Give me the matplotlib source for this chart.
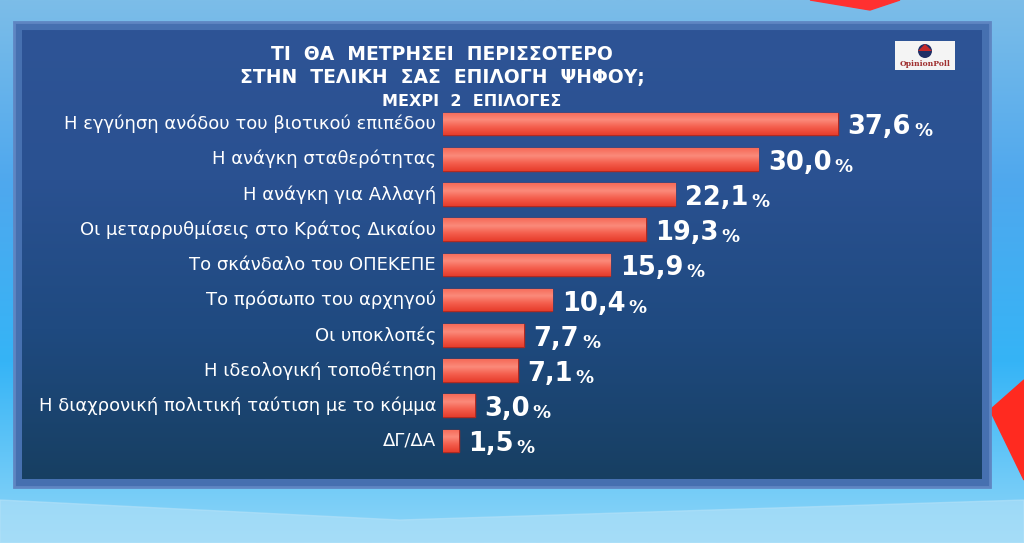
import numpy as np
import matplotlib
matplotlib.use("Agg")
import matplotlib.pyplot as plt
from matplotlib.patches import Rectangle, Polygon, Circle
from matplotlib.colors import LinearSegmentedColormap

categories = [
    "Η εγγύηση ανόδου του βιοτικού επιπέδου",
    "Η ανάγκη σταθερότητας",
    "Η ανάγκη για Αλλαγή",
    "Οι μεταρρυθμίσεις στο Κράτος Δικαίου",
    "Το σκάνδαλο του ΟΠΕΚΕΠΕ",
    "Το πρόσωπο του αρχηγού",
    "Οι υποκλοπές",
    "Η ιδεολογική τοποθέτηση",
    "Η διαχρονική πολιτική ταύτιση με το κόμμα",
    "ΔΓ/ΔΑ",
]
values = [37.6, 30.0, 22.1, 19.3, 15.9, 10.4, 7.7, 7.1, 3.0, 1.5]
title_lines = ["ΤΙ  ΘΑ  ΜΕΤΡΗΣΕΙ  ΠΕΡΙΣΣΟΤΕΡΟ", "ΣΤΗΝ  ΤΕΛΙΚΗ  ΣΑΣ  ΕΠΙΛΟΓΗ  ΨΗΦΟΥ;"]
subtitle = "ΜΕΧΡΙ  2  ΕΠΙΛΟΓΕΣ"

W, H = 1024, 543
fig = plt.figure(figsize=(W / 100, H / 100), dpi=100)

# ---- background (pixel coordinates, y downwards) ----
bg = fig.add_axes([0, 0, 1, 1])
bg.axis("off")
bg_cmap = LinearSegmentedColormap.from_list("bg", ["#7cbde8", "#4fa8ee", "#35b4f6", "#8fd6f8"])
grad = np.linspace(0, 1, 256).reshape(-1, 1)
bg.imshow(grad, extent=[0, W, H, 0], cmap=bg_cmap, aspect="auto", zorder=0)
bg.add_patch(Polygon([[990, 410], [1024, 380], [1024, 480]], closed=True, color="#ff2a20", zorder=1))
bg.add_patch(Polygon([[810, 0], [900, 0], [870, 10]], closed=True, color="#ff3030", zorder=1))
bg.add_patch(Polygon([[0, 500], [400, 520], [1024, 500], [1024, 543], [0, 543]], closed=True,
                     color="#b5e2f8", alpha=0.6, zorder=1))

# panel
bg.add_patch(Rectangle((14, 22), 976, 465, facecolor="#4670b0", edgecolor="#5f86c2", lw=2, zorder=2))
panel_cmap = LinearSegmentedColormap.from_list("panel", ["#2e5496", "#2a5191", "#1f4a80", "#173f62"])
pgrad = np.linspace(0, 1, 256).reshape(-1, 1)
bg.imshow(pgrad, extent=[22, 982, 479, 30], cmap=panel_cmap, aspect="auto", zorder=3)
bg.set_xlim(0, W)
bg.set_ylim(H, 0)

# logo
bg.add_patch(Rectangle((895, 41), 60, 29, facecolor="#f4f4f4", edgecolor="none", zorder=4))
bg.add_patch(Circle((925, 51), 7, facecolor="#1f2f66", zorder=5))
bg.add_patch(Polygon([[918, 51], [932, 51], [925, 44]], closed=True, facecolor="#c72a2a", zorder=5))
bg.text(925, 64, "OpinionPoll", ha="center", va="center", fontsize=5.5, color="#a03030",
        family="DejaVu Serif", fontweight="bold", zorder=6)

# titles
bg.text(442, 55, title_lines[0], ha="center", va="center", fontsize=13.5, fontweight="bold",
        color="white", family="DejaVu Sans", zorder=6)
bg.text(442, 78, title_lines[1], ha="center", va="center", fontsize=13.5, fontweight="bold",
        color="white", family="DejaVu Sans", zorder=6)
bg.text(472, 101, subtitle, ha="center", va="center", fontsize=11.5, fontweight="bold",
        color="white", family="DejaVu Sans", zorder=6)

# ---- bars ----
left_px, right_px = 443, 965
top_px, bot_px = 106.4, 458.6
ax = fig.add_axes([left_px / W, 1 - bot_px / H, (right_px - left_px) / W, (bot_px - top_px) / H])
ax.patch.set_alpha(0)
px_per_unit = (838 - 443) / 37.6
ax.axis("off")

y = np.arange(len(values))
bars = ax.barh(y, values, height=0.64, color="#f0503f", edgecolor="#b02a22", linewidth=1.0, zorder=2)
bar_cmap = LinearSegmentedColormap.from_list("bar", ["#f66a58", "#fb8a7a", "#f45d4c", "#e63d2c"])
for b in bars:
    x0, y0 = b.get_x(), b.get_y()
    w, h = b.get_width(), b.get_height()
    im = ax.imshow(np.linspace(0, 1, 64).reshape(-1, 1), extent=[x0, x0 + w, y0 + h, y0],
                   cmap=bar_cmap, aspect="auto", zorder=3)
    im.set_clip_path(b)
ax.set_xlim(0, (right_px - left_px) / px_per_unit)
ax.set_ylim(len(values) - 0.5, -0.5)

for yi, v, c in zip(y, values, categories):
    ax.annotate(c, xy=(0, yi), xytext=(-5, 0), textcoords="offset points", ha="right", va="center",
                fontsize=13, color="white", family="DejaVu Sans", zorder=5,
                annotation_clip=False)
    t = ax.annotate(f"{v:.1f}".replace(".", ","), xy=(v, yi), xytext=(7, -2.5), textcoords="offset points",
                    ha="left", va="center", fontsize=18.5, fontweight="bold", color="white",
                    family="DejaVu Sans", zorder=5, annotation_clip=False)
    ax.annotate("%", xy=(1, 0), xycoords=t, xytext=(2, 0), textcoords="offset points",
                ha="left", va="bottom", fontsize=13, fontweight="bold", color="white",
                family="DejaVu Sans", zorder=5, annotation_clip=False)

fig.savefig("out.png", dpi=100)
